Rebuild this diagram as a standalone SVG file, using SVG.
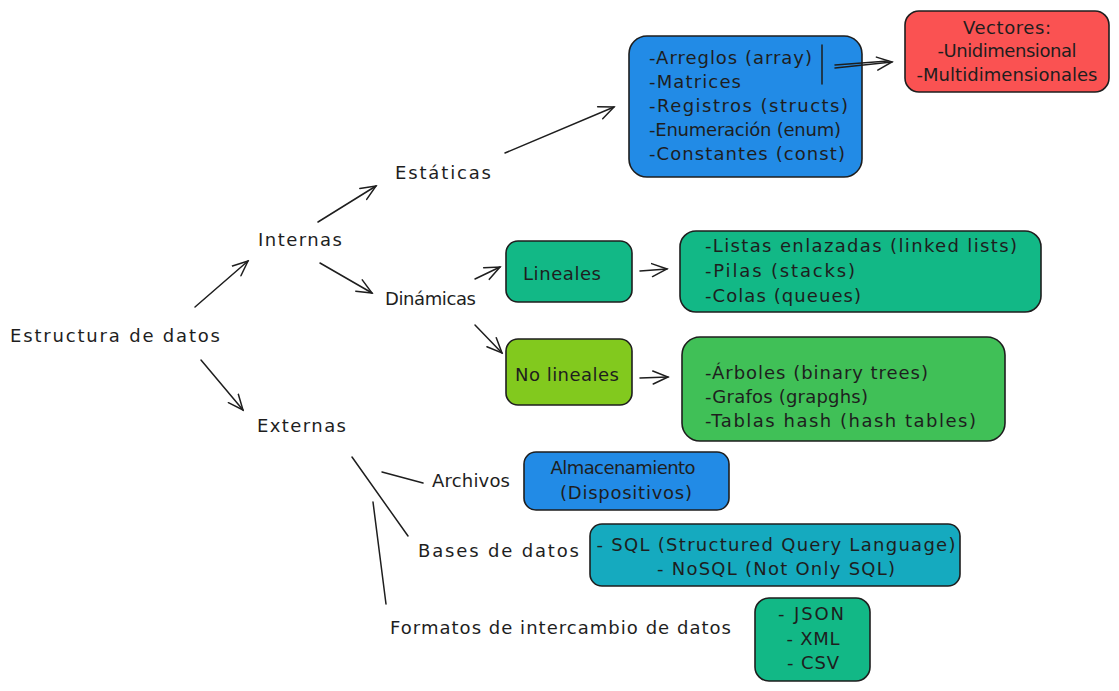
<svg xmlns="http://www.w3.org/2000/svg" width="1119" height="691" viewBox="0 0 1119 691">
<defs>
<marker id="ah" viewBox="-16 -8 18 16" markerWidth="18" markerHeight="16" refX="0" refY="0" orient="auto" markerUnits="userSpaceOnUse">
<path d="M-15,-6.5 L0,0 L-15,6.5" fill="none" stroke="#1e1e1e" stroke-width="1.5" stroke-linecap="round"/>
</marker>
<style>
text{font-family:"DejaVu Sans","Liberation Sans",sans-serif;font-size:18px;fill:#1e1e1e}
.box{stroke:#1e1e1e;stroke-width:1.6}
.c{text-anchor:middle}
.ln{stroke:#1e1e1e;stroke-width:1.5;fill:none;stroke-linecap:round}
.ar{stroke:#1e1e1e;stroke-width:1.5;fill:none;stroke-linecap:round;marker-end:url(#ah)}
</style>
</defs>
<rect width="1119" height="691" fill="#ffffff"/>
<g id="n-root"><text x="10" y="342" textLength="210">Estructura de datos</text></g>
<g id="n-internas"><text x="258" y="246" textLength="84">Internas</text></g>
<g id="n-externas"><text x="257" y="432" textLength="89">Externas</text></g>
<g id="n-estaticas"><text x="395" y="179" textLength="96">Estáticas</text></g>
<g id="n-dinamicas"><text x="385" y="305" textLength="91">Dinámicas</text></g>
<g id="n-archivos"><text x="432" y="487" textLength="78">Archivos</text></g>
<g id="n-bases"><text x="418" y="557" textLength="161">Bases de datos</text></g>
<g id="n-formatos"><text x="390" y="634" textLength="341">Formatos de intercambio de datos</text></g>
<g id="n-estaticas-list">
<rect class="box" x="629" y="36" width="233" height="141" rx="18" fill="#228be6"/>
<text x="649" y="64" textLength="163">-Arreglos (array)</text>
<text x="649" y="88" textLength="92">-Matrices</text>
<text x="649" y="112" textLength="199">-Registros (structs)</text>
<text x="649" y="136" textLength="192">-Enumeración (enum)</text>
<text x="649" y="160" textLength="196">-Constantes (const)</text>
</g>
<g id="n-vectores">
<rect class="box" x="905" y="11" width="204" height="81" rx="14" fill="#fa5252"/>
<text class="c" x="1007" y="34" textLength="88">Vectores:</text>
<text class="c" x="1007" y="57" textLength="139">-Unidimensional</text>
<text class="c" x="1007" y="81" textLength="181">-Multidimensionales</text>
</g>
<g id="n-lineales">
<rect class="box" x="506" y="241" width="126" height="61" rx="12" fill="#12b886"/>
<text x="523" y="280" textLength="78">Lineales</text>
</g>
<g id="n-lineales-list">
<rect class="box" x="680" y="231" width="361" height="81" rx="16" fill="#12b886"/>
<text x="705" y="252" textLength="312">-Listas enlazadas (linked lists)</text>
<text x="705" y="277" textLength="150">-Pilas (stacks)</text>
<text x="705" y="302" textLength="156">-Colas (queues)</text>
</g>
<g id="n-nolineales">
<rect class="box" x="506" y="339" width="126" height="66" rx="12" fill="#82c91e"/>
<text x="515" y="381" textLength="104">No lineales</text>
</g>
<g id="n-nolineales-list">
<rect class="box" x="682" y="337" width="323" height="104" rx="18" fill="#40c057"/>
<text x="705" y="379" textLength="223">-Árboles (binary trees)</text>
<text x="705" y="403" textLength="163">-Grafos (grapghs)</text>
<text x="705" y="427" textLength="271">-Tablas hash (hash tables)</text>
</g>
<g id="n-almacenamiento">
<rect class="box" x="524" y="452" width="205" height="58" rx="12" fill="#228be6"/>
<text class="c" x="623" y="474" textLength="145">Almacenamiento</text>
<text class="c" x="626" y="499" textLength="132">(Dispositivos)</text>
</g>
<g id="n-sql">
<rect class="box" x="590" y="524" width="370" height="62" rx="12" fill="#15aabf"/>
<text class="c" x="776" y="551" textLength="359">- SQL (Structured Query Language)</text>
<text class="c" x="776" y="575" textLength="238">- NoSQL (Not Only SQL)</text>
</g>
<g id="n-formatos-list">
<rect class="box" x="755" y="598" width="115" height="83" rx="14" fill="#12b886"/>
<text class="c" x="811" y="620" textLength="66">- JSON</text>
<text class="c" x="813" y="645" textLength="53">- XML</text>
<text class="c" x="813" y="669" textLength="52">- CSV</text>
</g>
<g id="connectors">
<line class="ar" x1="195" y1="307" x2="248" y2="261"/>
<line class="ar" x1="201" y1="360" x2="243" y2="410"/>
<line class="ar" x1="318" y1="222" x2="376" y2="186"/>
<line class="ar" x1="320" y1="263" x2="372" y2="293"/>
<line class="ar" x1="505" y1="153" x2="614" y2="107"/>
<line class="ar" x1="475" y1="279" x2="500" y2="267"/>
<line class="ar" x1="475" y1="325" x2="502" y2="353"/>
<line class="ar" x1="640" y1="271" x2="667" y2="269"/>
<line class="ar" x1="640" y1="378" x2="668" y2="377"/>
<line class="ar" x1="835" y1="68" x2="892" y2="62"/>
<line class="ln" x1="835" y1="65" x2="888" y2="61"/>
<line class="ln" x1="822" y1="45" x2="822" y2="84"/>
<line class="ln" x1="352" y1="457" x2="408" y2="536"/>
<line class="ln" x1="382" y1="472" x2="423" y2="483"/>
<line class="ln" x1="373" y1="502" x2="386" y2="604"/>
</g>
</svg>
